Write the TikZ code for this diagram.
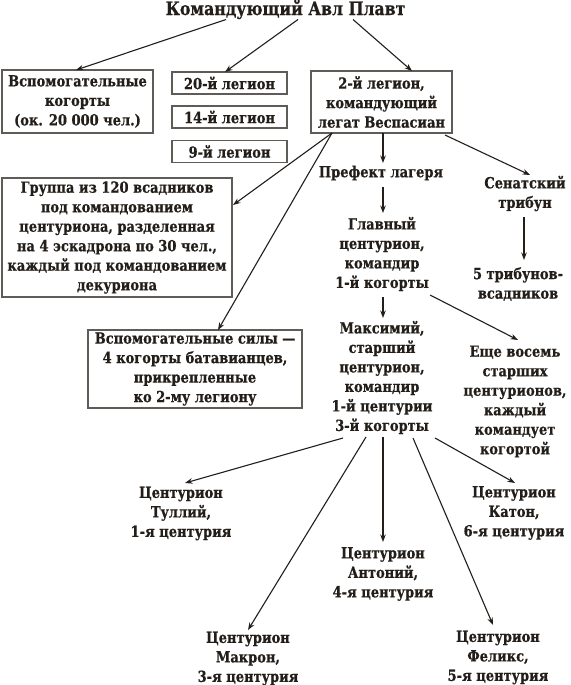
\documentclass[tikz,border=0pt]{standalone}
\usepackage{fontspec}
\newfontfamily\dfont[FakeStretch=0.85,FakeBold=0.6]{DejaVu Serif}
\usetikzlibrary{calc,arrows.meta}
\definecolor{ink}{RGB}{35,30,25}
\definecolor{frame}{RGB}{95,92,88}
\begin{document}
\begin{tikzpicture}[x=1pt,y=-1pt,
  txt/.style={inner sep=0pt,align=center,text=ink,font=\dfont\bfseries\fontsize{15.3}{19.5}\selectfont},
  boxed/.style={txt,draw=frame,line width=1.2pt},
  arr/.style={draw=ink,line width=1.1pt,-{Stealth[length=7.5pt,width=5.5pt]}},
  ln/.style={draw=ink,line width=1.1pt}]
\useasboundingbox (0,0) rectangle (570,685);
\fill[white] (0,0) rectangle (570,685);
\node[txt,font=\dfont\bfseries\fontsize{18.5}{20}\selectfont] (title) at (285.5,9.5) {Командующий Авл Плавт};
\node[boxed,minimum width=151pt,minimum height=63pt] (vk) at (77.5,101.5) {Вспомогательные\\когорты\\(ок. 20 000 чел.)};
\node[boxed,minimum width=115pt,minimum height=22pt] (l20) at (229.5,83) {20-й легион};
\node[boxed,minimum width=115pt,minimum height=22pt] (l14) at (229.5,117) {14-й легион};
\node[boxed,minimum width=115pt,minimum height=22pt] (l9) at (229.5,151.5) {9-й легион};
\node[boxed,minimum width=141pt,minimum height=62pt] (l2) at (381.5,102) {2-й легион,\\командующий\\легат Веспасиан};
\node[boxed,minimum width=230pt,minimum height=119pt] (grp) at (117,237.5) {Группа из 120 всадников\\под командованием\\центуриона, разделенная\\на 4 эскадрона по 30 чел.,\\каждый под командованием\\декуриона};
\node[boxed,minimum width=214pt,minimum height=78pt] (vs) at (195,369) {Вспомогательные силы —\\4 когорты батавианцев,\\прикрепленные\\ко 2-му легиону};
\node[txt] (pref) at (381,173) {Префект лагеря};
\node[txt] (glav) at (382,254) {Главный\\центурион,\\командир\\1-й когорты};
\node[txt] (sen) at (525,193.5) {Сенатский\\трибун};
\node[txt] (trib5) at (518,284) {5 трибунов-\\всадников};
\node[txt] (max) at (382,377.5) {Максимий,\\старший\\центурион,\\командир\\1-й центурии\\3-й когорты};
\node[txt] (eshe) at (515,401.5) {Еще восемь\\старших\\центурионов,\\каждый\\командует\\когортой};
\node[txt] (tul) at (181,513.5) {Центурион\\Туллий,\\1-я центурия};
\node[txt] (ant) at (383,574) {Центурион\\Антоний,\\4-я центурия};
\node[txt] (kat) at (514,513) {Центурион\\Катон,\\6-я центурия};
\node[txt] (mak) at (248,658.5) {Центурион\\Макрон,\\3-я центурия};
\node[txt] (fel) at (498,657.5) {Центурион\\Феликс,\\5-я центурия};
\draw[arr] ($(title)+(-59.5,10)$) -- ($(vk)+(-1.5,-31.5)$);
\draw[arr] ($(title)+(12.5,10)$) -- ($(l20)+(-4.5,-11)$);
\draw[arr] ($(title)+(67.5,10)$) -- ($(l2)+(30.5,-31)$);
\draw[arr] ($(l2)+(-49.5,31)$) -- ($(grp)+(116,-32.5)$);
\draw[arr] ($(l2)+(-49.5,31)$) -- ($(vs)+(23,-39)$);
\draw[arr] ($(l2)+(1.5,31)$) -- ($(pref)+(2,-10)$);
\draw[arr] ($(l2)+(63.5,33)$) -- ($(sen)+(5,-18.5)$);
\draw[arr] ($(pref)+(2,14)$) -- ($(glav)+(1,-41)$);
\draw[arr] ($(sen)+(-1,23.5)$) -- ($(trib5)+(6,-24)$);
\draw[arr] ($(glav)+(1,43)$) -- ($(max)+(1,-59.5)$);
\draw[arr] ($(glav)+(48,41)$) -- ($(eshe)+(3,-61.5)$);
\draw[arr] ($(max)+(-39,60.5)$) -- ($(tul)+(4,-30.5)$);
\draw[arr] ($(max)+(-16,59.5)$) -- ($(mak)+(0,-28.5)$);
\draw[arr] ($(max)+(1,59.5)$) -- ($(ant)+(0,-32)$);
\draw[arr] ($(max)+(31,60.5)$) -- ($(fel)+(-5,-32.5)$);
\draw[arr] ($(max)+(53,60.5)$) -- ($(kat)+(1,-30)$);
\end{tikzpicture}
\end{document}
